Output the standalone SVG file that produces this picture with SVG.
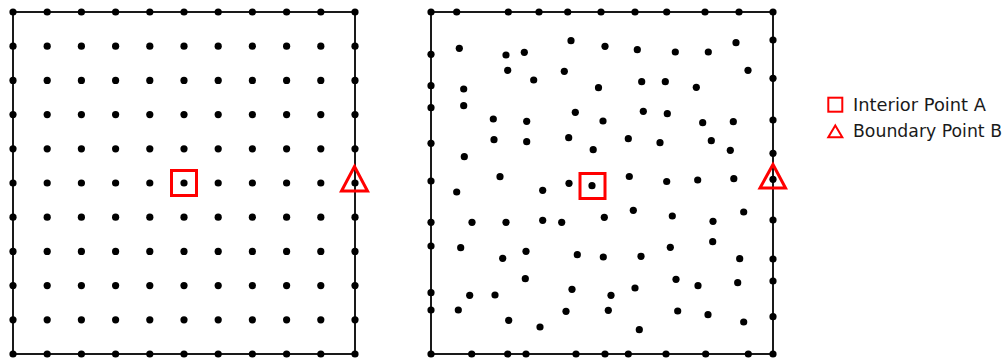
<svg xmlns="http://www.w3.org/2000/svg" width="1008" height="360" viewBox="0 0 1008 360">
<style>
.frame{fill:none;stroke:#1a1a1a;stroke-width:2}
.pt{fill:#000}
.mk{fill:none;stroke:#ff0000;stroke-width:3}
.lg{fill:none;stroke:#ff0000;stroke-width:2}
.txt{font-family:"DejaVu Sans","Liberation Sans",sans-serif;font-size:17px;fill:#1a1a1a}
</style>
<defs>
<circle id="d" r="3.6"/>
</defs>
<g id="uniform-grid">
<rect class="frame" x="13" y="12" width="342" height="342"/>
<g class="pt">
<use href="#d" x="13" y="12"/><use href="#d" x="47.2" y="12"/><use href="#d" x="81.4" y="12"/><use href="#d" x="115.6" y="12"/><use href="#d" x="149.8" y="12"/><use href="#d" x="184" y="12"/><use href="#d" x="218.2" y="12"/><use href="#d" x="252.4" y="12"/><use href="#d" x="286.6" y="12"/><use href="#d" x="320.8" y="12"/><use href="#d" x="355" y="12"/>
<use href="#d" x="13" y="46.2"/><use href="#d" x="47.2" y="46.2"/><use href="#d" x="81.4" y="46.2"/><use href="#d" x="115.6" y="46.2"/><use href="#d" x="149.8" y="46.2"/><use href="#d" x="184" y="46.2"/><use href="#d" x="218.2" y="46.2"/><use href="#d" x="252.4" y="46.2"/><use href="#d" x="286.6" y="46.2"/><use href="#d" x="320.8" y="46.2"/><use href="#d" x="355" y="46.2"/>
<use href="#d" x="13" y="80.4"/><use href="#d" x="47.2" y="80.4"/><use href="#d" x="81.4" y="80.4"/><use href="#d" x="115.6" y="80.4"/><use href="#d" x="149.8" y="80.4"/><use href="#d" x="184" y="80.4"/><use href="#d" x="218.2" y="80.4"/><use href="#d" x="252.4" y="80.4"/><use href="#d" x="286.6" y="80.4"/><use href="#d" x="320.8" y="80.4"/><use href="#d" x="355" y="80.4"/>
<use href="#d" x="13" y="114.6"/><use href="#d" x="47.2" y="114.6"/><use href="#d" x="81.4" y="114.6"/><use href="#d" x="115.6" y="114.6"/><use href="#d" x="149.8" y="114.6"/><use href="#d" x="184" y="114.6"/><use href="#d" x="218.2" y="114.6"/><use href="#d" x="252.4" y="114.6"/><use href="#d" x="286.6" y="114.6"/><use href="#d" x="320.8" y="114.6"/><use href="#d" x="355" y="114.6"/>
<use href="#d" x="13" y="148.8"/><use href="#d" x="47.2" y="148.8"/><use href="#d" x="81.4" y="148.8"/><use href="#d" x="115.6" y="148.8"/><use href="#d" x="149.8" y="148.8"/><use href="#d" x="184" y="148.8"/><use href="#d" x="218.2" y="148.8"/><use href="#d" x="252.4" y="148.8"/><use href="#d" x="286.6" y="148.8"/><use href="#d" x="320.8" y="148.8"/><use href="#d" x="355" y="148.8"/>
<use href="#d" x="13" y="183"/><use href="#d" x="47.2" y="183"/><use href="#d" x="81.4" y="183"/><use href="#d" x="115.6" y="183"/><use href="#d" x="149.8" y="183"/><use href="#d" x="184" y="183"/><use href="#d" x="218.2" y="183"/><use href="#d" x="252.4" y="183"/><use href="#d" x="286.6" y="183"/><use href="#d" x="320.8" y="183"/><use href="#d" x="355" y="183"/>
<use href="#d" x="13" y="217.2"/><use href="#d" x="47.2" y="217.2"/><use href="#d" x="81.4" y="217.2"/><use href="#d" x="115.6" y="217.2"/><use href="#d" x="149.8" y="217.2"/><use href="#d" x="184" y="217.2"/><use href="#d" x="218.2" y="217.2"/><use href="#d" x="252.4" y="217.2"/><use href="#d" x="286.6" y="217.2"/><use href="#d" x="320.8" y="217.2"/><use href="#d" x="355" y="217.2"/>
<use href="#d" x="13" y="251.4"/><use href="#d" x="47.2" y="251.4"/><use href="#d" x="81.4" y="251.4"/><use href="#d" x="115.6" y="251.4"/><use href="#d" x="149.8" y="251.4"/><use href="#d" x="184" y="251.4"/><use href="#d" x="218.2" y="251.4"/><use href="#d" x="252.4" y="251.4"/><use href="#d" x="286.6" y="251.4"/><use href="#d" x="320.8" y="251.4"/><use href="#d" x="355" y="251.4"/>
<use href="#d" x="13" y="285.6"/><use href="#d" x="47.2" y="285.6"/><use href="#d" x="81.4" y="285.6"/><use href="#d" x="115.6" y="285.6"/><use href="#d" x="149.8" y="285.6"/><use href="#d" x="184" y="285.6"/><use href="#d" x="218.2" y="285.6"/><use href="#d" x="252.4" y="285.6"/><use href="#d" x="286.6" y="285.6"/><use href="#d" x="320.8" y="285.6"/><use href="#d" x="355" y="285.6"/>
<use href="#d" x="13" y="319.8"/><use href="#d" x="47.2" y="319.8"/><use href="#d" x="81.4" y="319.8"/><use href="#d" x="115.6" y="319.8"/><use href="#d" x="149.8" y="319.8"/><use href="#d" x="184" y="319.8"/><use href="#d" x="218.2" y="319.8"/><use href="#d" x="252.4" y="319.8"/><use href="#d" x="286.6" y="319.8"/><use href="#d" x="320.8" y="319.8"/><use href="#d" x="355" y="319.8"/>
<use href="#d" x="13" y="354"/><use href="#d" x="47.2" y="354"/><use href="#d" x="81.4" y="354"/><use href="#d" x="115.6" y="354"/><use href="#d" x="149.8" y="354"/><use href="#d" x="184" y="354"/><use href="#d" x="218.2" y="354"/><use href="#d" x="252.4" y="354"/><use href="#d" x="286.6" y="354"/><use href="#d" x="320.8" y="354"/><use href="#d" x="355" y="354"/>
</g>
<rect id="left-pointA" class="mk" x="171.5" y="170.5" width="25" height="25"/>
<polygon id="left-pointB" class="mk" points="354.5,166.5 367.5,191 341.5,191"/>
</g>
<g id="scattered-points">
<rect class="frame" x="431" y="12" width="342" height="342"/>
<g class="pt">
<use href="#d" x="431" y="12"/><use href="#d" x="456.7" y="12"/><use href="#d" x="508.3" y="12"/><use href="#d" x="539" y="12"/><use href="#d" x="567.7" y="12"/><use href="#d" x="601" y="12"/><use href="#d" x="635" y="12"/><use href="#d" x="666.7" y="12"/><use href="#d" x="705" y="12"/><use href="#d" x="739" y="12"/><use href="#d" x="773" y="12"/>
<use href="#d" x="431" y="54.3"/><use href="#d" x="431" y="85.7"/><use href="#d" x="431" y="107.7"/><use href="#d" x="431" y="143.3"/><use href="#d" x="431" y="181"/><use href="#d" x="431" y="222.3"/><use href="#d" x="431" y="246"/><use href="#d" x="431" y="292.7"/><use href="#d" x="431" y="310"/><use href="#d" x="431" y="354"/>
<use href="#d" x="773" y="40"/><use href="#d" x="773" y="78.3"/><use href="#d" x="773" y="120"/><use href="#d" x="773" y="153.3"/><use href="#d" x="773" y="179.3"/><use href="#d" x="773" y="220"/><use href="#d" x="773" y="259"/><use href="#d" x="773" y="281"/><use href="#d" x="773" y="316.7"/><use href="#d" x="773" y="354"/>
<use href="#d" x="471.7" y="354"/><use href="#d" x="507.7" y="354"/><use href="#d" x="526" y="354"/><use href="#d" x="576" y="354"/><use href="#d" x="605" y="354"/><use href="#d" x="628.3" y="354"/><use href="#d" x="666" y="354"/><use href="#d" x="705.7" y="354"/><use href="#d" x="748.3" y="354"/>
<use href="#d" x="459.3" y="48.3"/><use href="#d" x="506" y="55"/><use href="#d" x="524.3" y="52.3"/><use href="#d" x="571" y="40.7"/><use href="#d" x="507.7" y="70.3"/><use href="#d" x="564.3" y="71.3"/><use href="#d" x="533.7" y="80"/><use href="#d" x="463.7" y="89"/><use href="#d" x="598.5" y="87.7"/><use href="#d" x="463.7" y="105.7"/><use href="#d" x="575.3" y="112.3"/><use href="#d" x="493.3" y="119"/><use href="#d" x="526.7" y="121.3"/><use href="#d" x="494" y="139.7"/><use href="#d" x="526.7" y="141.7"/><use href="#d" x="568.7" y="137.7"/><use href="#d" x="593.2" y="149.7"/><use href="#d" x="464.3" y="156.7"/><use href="#d" x="500" y="176.7"/>
<use href="#d" x="605" y="46.3"/><use href="#d" x="637.3" y="49.7"/><use href="#d" x="675.3" y="52"/><use href="#d" x="708.3" y="52"/><use href="#d" x="736" y="42.7"/><use href="#d" x="748" y="70.3"/><use href="#d" x="641.7" y="81.7"/><use href="#d" x="665.3" y="81.7"/><use href="#d" x="696.3" y="87.3"/><use href="#d" x="643.3" y="111.3"/><use href="#d" x="667.3" y="113.7"/><use href="#d" x="603" y="121"/><use href="#d" x="702.7" y="122.7"/><use href="#d" x="733.3" y="121.7"/><use href="#d" x="628.3" y="138.7"/><use href="#d" x="660" y="142.7"/><use href="#d" x="711.3" y="140.7"/><use href="#d" x="730.3" y="150.3"/><use href="#d" x="629.3" y="176.5"/><use href="#d" x="666.7" y="181.5"/><use href="#d" x="697.7" y="180"/><use href="#d" x="733.8" y="178.7"/>
<use href="#d" x="456.7" y="192"/><use href="#d" x="542.7" y="190.3"/><use href="#d" x="569" y="183.3"/><use href="#d" x="592" y="185.7"/><use href="#d" x="472" y="222.3"/><use href="#d" x="506" y="222.3"/><use href="#d" x="542.7" y="220.3"/><use href="#d" x="561.7" y="222.3"/><use href="#d" x="460.7" y="247.7"/><use href="#d" x="526" y="251.3"/><use href="#d" x="502.7" y="258.3"/><use href="#d" x="577.3" y="254.7"/><use href="#d" x="525.3" y="278.7"/><use href="#d" x="469.7" y="295.3"/><use href="#d" x="495" y="295"/><use href="#d" x="572" y="289.3"/><use href="#d" x="458.3" y="310"/><use href="#d" x="566" y="311.3"/><use href="#d" x="508.7" y="320.3"/><use href="#d" x="540" y="327"/>
<use href="#d" x="604.3" y="217.3"/><use href="#d" x="633.3" y="210.3"/><use href="#d" x="672.3" y="216"/><use href="#d" x="713" y="221.3"/><use href="#d" x="743.7" y="212"/><use href="#d" x="712.7" y="241.7"/><use href="#d" x="670.3" y="247.3"/><use href="#d" x="603.3" y="257"/><use href="#d" x="641" y="256.3"/><use href="#d" x="739.7" y="258.7"/><use href="#d" x="676" y="279.3"/><use href="#d" x="698" y="285.7"/><use href="#d" x="737.7" y="282.7"/><use href="#d" x="635" y="288"/><use href="#d" x="611" y="295.3"/><use href="#d" x="608.3" y="310.3"/><use href="#d" x="677.7" y="311"/><use href="#d" x="708" y="314.7"/><use href="#d" x="743.7" y="322"/><use href="#d" x="639.3" y="329.7"/>
</g>
<rect id="right-pointA" class="mk" x="580" y="173.5" width="25" height="25"/>
<polygon id="right-pointB" class="mk" points="773,164.5 785.5,188 760,188"/>
</g>
<g id="legend">
<g id="legend-interior">
<rect class="lg" x="828.3" y="97.7" width="14" height="14"/>
<text class="txt" x="853" y="110.7" textLength="133" lengthAdjust="spacingAndGlyphs">Interior Point A</text>
</g>
<g id="legend-boundary">
<polygon class="lg" points="835.3,125.5 842.3,137.3 828.3,137.3"/>
<text class="txt" x="853" y="137.3" textLength="149" lengthAdjust="spacingAndGlyphs">Boundary Point B</text>
</g>
</g>
</svg>
